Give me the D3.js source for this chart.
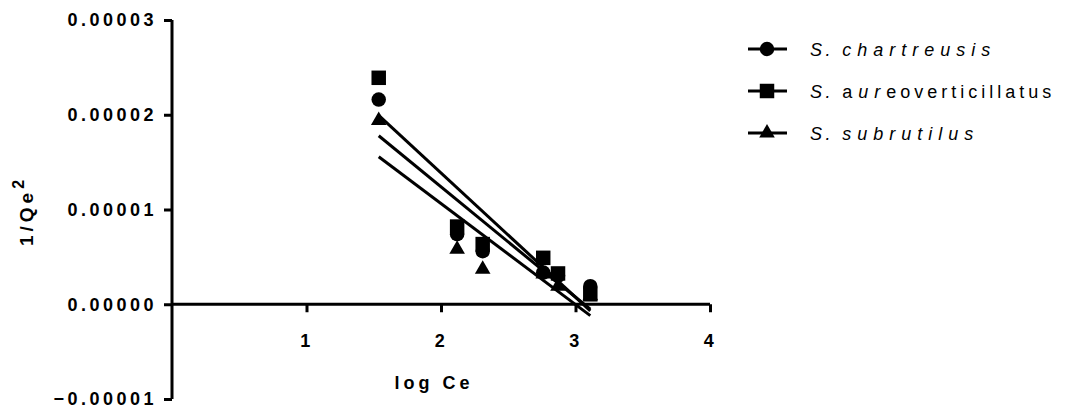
<!DOCTYPE html>
<html>
<head>
<meta charset="utf-8">
<script src="https://cdn.jsdelivr.net/npm/d3@7"></script>
<style>
  body { margin: 0; background: #fff; }
  svg text { font-family: "Liberation Sans", Arial, sans-serif; fill: #000; }
</style>
</head>
<body>
<svg id="chart" width="1067" height="414"></svg>
<script>
// data
var logCe = [1.537, 2.12, 2.31, 2.76, 2.87, 3.11];
var chartreusis = [2.16e-5, 0.74e-5, 0.56e-5, 0.335e-5, 0.30e-5, 0.19e-5];
var aureoverticillatus = [2.39e-5, 0.82e-5, 0.635e-5, 0.49e-5, 0.325e-5, 0.105e-5];
var subrutilus = [1.94e-5, 0.58e-5, 0.37e-5, 0.32e-5, 0.19e-5, 0.09e-5];
var xTicks = [1, 2, 3, 4];
var yTicks = [-0.00001, 0, 0.00001, 0.00002, 0.00003];

var series = [
    { name: "chartreusis", values: chartreusis, symbol: d3.symbolCircle },
    { name: "aureoverticillatus", values: aureoverticillatus, symbol: d3.symbolSquare },
    { name: "subrutilus", values: subrutilus, symbol: d3.symbolTriangle }
];

var svg = d3.select("#chart");

var x = d3.scaleLinear().domain([0, 4]).range([172, 710]);
var y = d3.scaleLinear().domain([-0.00001, 0.00003]).range([399, 20]);

var fit = function(xs, ys) {
    var mx = d3.mean(xs), my = d3.mean(ys);
    var sxy = d3.sum(xs, function(v, i) { return (v - mx) * (ys[i] - my); });
    var sxx = d3.sum(xs, function(v) { return (v - mx) * (v - mx); });
    var b = sxy / sxx;
    return function(v) { return my + b * (v - mx); };
};

// y axis
var yAxis = svg.append("g")
    .attr("transform", "translate(172,0)")
    .call(d3.axisLeft(y).tickValues(yTicks).tickSize(8).tickPadding(6)
        .tickFormat(d3.format(".5f")));

// x axis on the zero line
var xAxis = svg.append("g")
    .attr("transform", "translate(0," + y(0) + ")")
    .call(d3.axisBottom(x).tickValues(xTicks).tickSize(8).tickPadding(22)
        .tickFormat(d3.format("d")));

[yAxis, xAxis].forEach(function(a) {
    a.select(".domain").attr("stroke", "#000").attr("stroke-width", 3);
    a.selectAll(".tick line").attr("stroke", "#000").attr("stroke-width", 3);
    a.selectAll(".tick text")
        .attr("font-size", 18)
        .attr("font-weight", "bold")
        .style("letter-spacing", "3.5px")
        .attr("fill", "#000");
});
// the domain paths carry outer ticks of size 8; flatten them
yAxis.select(".domain").attr("d", "M0," + y.range()[0] + "V" + y.range()[1]);
xAxis.select(".domain").attr("d", "M" + x.range()[0] + ",0H" + x.range()[1]);
yAxis.selectAll(".tick text").attr("dx", "-1px");

// axis titles
svg.append("text")
    .attr("x", 434).attr("y", 389)
    .attr("text-anchor", "middle")
    .attr("font-size", 18).attr("font-weight", "bold")
    .style("letter-spacing", "4px")
    .text("log Ce");

var yt = svg.append("text")
    .attr("transform", "translate(33,211) rotate(-90)")
    .attr("text-anchor", "middle")
    .attr("font-size", 19).attr("font-weight", "bold")
    .style("letter-spacing", "4px");
yt.append("tspan").text("1/Qe");
yt.append("tspan").attr("dy", -9).attr("font-size", 16).text("2");

// regression lines
var line = d3.line().x(function(d) { return x(d[0]); }).y(function(d) { return y(d[1]); });
series.forEach(function(s) {
    var f = fit(logCe, s.values);
    var ext = d3.extent(logCe);
    svg.append("path")
        .attr("d", line([[ext[0], f(ext[0])], [ext[1], f(ext[1])]]))
        .attr("stroke", "#000").attr("stroke-width", 3).attr("fill", "none");
});

// markers
var symSize = { circle: 165, square: 210, triangle: 105 };
var sym = function(s) {
    var k = s.symbol === d3.symbolCircle ? "circle" : s.symbol === d3.symbolSquare ? "square" : "triangle";
    return d3.symbol().type(s.symbol).size(symSize[k])();
};
series.forEach(function(s) {
    svg.append("g").selectAll("path")
        .data(s.values)
      .enter()
        .append("path")
        .attr("d", sym(s))
        .attr("transform", function(d, i) {
            return "translate(" + x(logCe[i]) + "," + y(d) + ")";
        })
        .attr("fill", "#000");
});

// legend
var legend = svg.append("g");
var rowsY = [49, 91, 133];
series.forEach(function(s, i) {
    var g = legend.append("g").attr("transform", "translate(0," + rowsY[i] + ")");
    g.append("line").attr("x1", 748).attr("x2", 787)
        .attr("stroke", "#000").attr("stroke-width", 3);
    g.append("path").attr("d", sym(s)).attr("transform", "translate(767,0)").attr("fill", "#000");
    var t = g.append("text").attr("x", 810).attr("y", 7)
        .attr("font-size", 18)
        .style("letter-spacing", "3.4px");
    t.append("tspan").attr("font-style", "italic").text("S. ");
    if (s.name === "aureoverticillatus") {
        t.append("tspan").style("letter-spacing", "6px").text("a");
        t.append("tspan").attr("font-style", "italic").style("letter-spacing", "6px").text("ur");
        t.append("tspan").style("letter-spacing", "4px").text("eoverticillatus");
    } else {
        t.append("tspan").attr("font-style", "italic").style("letter-spacing", "6px").text(s.name);
    }
});
</script>
</body>
</html>
